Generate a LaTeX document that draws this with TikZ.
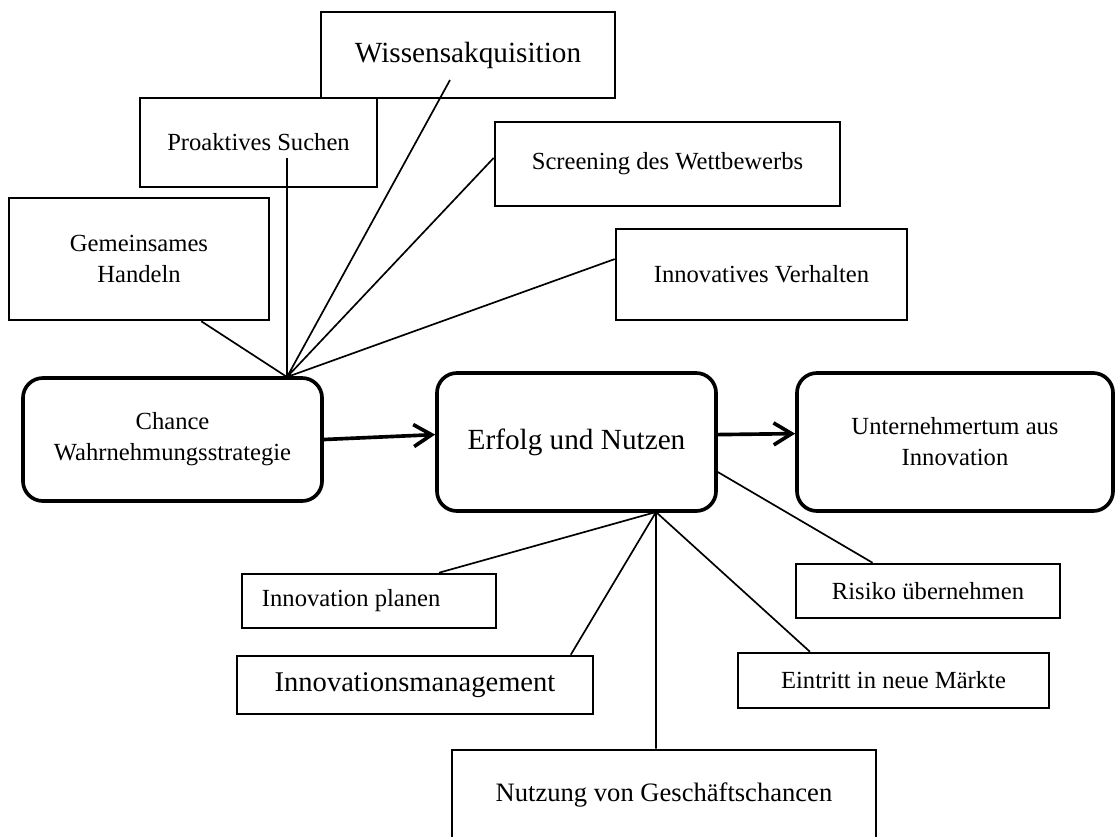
\documentclass[tikz,border=0pt]{standalone}
\usepackage{fontspec}
\setmainfont{Liberation Serif}
\usetikzlibrary{arrows.meta}

\begin{document}
\begin{tikzpicture}[x=0.025cm,y=-0.025cm,
    factor/.style={draw,rectangle,line width=1.8pt,align=center,inner sep=2pt},
    phase/.style={draw,rectangle,rounded corners=0.5cm,line width=2.6pt,align=center,inner sep=2pt},
    big/.style={font=\fontsize{20.8}{26}\selectfont},
    link/.style={line width=1.2pt},
    arr/.style={-{Straight Barb[length=4.5mm,width=5.5mm]},line width=2.6pt},
    font=\fontsize{17.5}{22}\selectfont]
  \path[use as bounding box,clip] (0,0) rectangle (1116,836);

  % main chain
  \node[phase,minimum width=7.475cm,minimum height=3.075cm] (chance) at (172.5,439.5) {Chance\\Wahrnehmungsstrategie};
  \node[phase,big,minimum width=6.975cm,minimum height=3.45cm] (erfolg) at (576.5,442) {Erfolg und Nutzen};
  \node[phase,minimum width=7.9cm,minimum height=3.45cm] (untern) at (955,442) {Unternehmertum aus\\Innovation};

  % upper factors
  \node[factor,big,minimum width=7.35cm,minimum height=2.15cm] (wiss) at (468,55) {Wissensakquisition};
  \node[factor,minimum width=5.925cm,minimum height=2.225cm] (proak) at (258.5,142.5) {Proaktives Suchen};
  \node[factor,minimum width=8.625cm,minimum height=2.1cm] (screen) at (667.5,164) {Screening des Wettbewerbs};
  \node[factor,minimum width=6.5cm,minimum height=3.05cm] (gemein) at (139,259) {Gemeinsames\\Handeln};
  \node[factor,minimum width=7.275cm,minimum height=2.275cm] (innov) at (761.5,274.5) {Innovatives Verhalten};

  % lower factors
  \node[factor,text width=5.35cm,align=flush left,inner xsep=0.5cm,minimum height=1.35cm] (planen) at (369,601) {Innovation planen};
  \node[factor,font=\fontsize{20.3}{25}\selectfont,minimum width=8.9cm,minimum height=1.45cm] (mgmt) at (415,685) {Innovationsmanagement};
  \node[factor,font=\fontsize{18.9}{23}\selectfont,minimum width=10.6cm,minimum height=2.25cm] (nutzung) at (664,795) {Nutzung von Geschäftschancen};
  \node[factor,minimum width=7.775cm,minimum height=1.375cm] (eintritt) at (893.5,680.5) {Eintritt in neue Märkte};
  \node[factor,minimum width=6.6cm,minimum height=1.35cm] (risiko) at (928,591) {Risiko übernehmen};

  \coordinate (chub) at (287,377);
  \coordinate (ehub) at (656,512);
  \coordinate (proakend) at (287,158);
  \coordinate (wissend) at (450,80);

  \draw[link] (chub) -- (gemein.-45) (chub) -- (proakend) (chub) -- (wissend)
        (chub) -- (screen.178) (chub) -- (innov.174);
  \draw[link] (ehub) -- (planen.22) (ehub) -- (mgmt.11) (ehub) -- (ehub |- nutzung.north)
        (ehub) -- (eintritt.161) (erfolg.-12) -- (risiko.153);

  \draw[arr] (chance.east) -- (erfolg.177);
  \draw[arr] (erfolg.3) -- (untern.177);
\end{tikzpicture}
\end{document}
